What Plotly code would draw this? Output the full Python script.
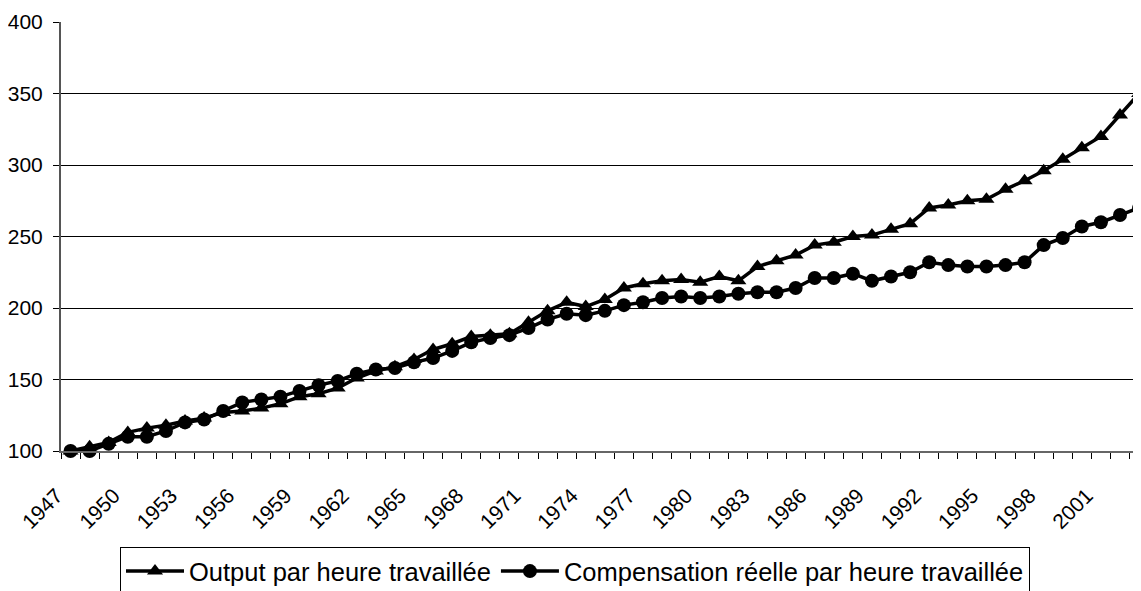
import plotly.graph_objects as go

years = list(range(1947, 2004))

output_per_hour = [
    100, 103, 106, 113, 116, 118, 121, 123, 127, 128,
    130, 133, 138, 140, 144, 151, 156, 159, 164, 171,
    175, 180, 181, 182, 190, 198, 204, 201, 206, 214,
    217, 219, 220, 218, 222, 219, 229, 233, 237, 244,
    246, 250, 251, 255, 259, 270, 272, 275, 276, 283,
    289, 296, 304, 312, 320, 335, 350,
]

comp_per_hour = [
    100, 100, 105, 110, 110, 114, 120, 122, 128, 134,
    136, 138, 142, 146, 149, 154, 157, 158, 162, 165,
    170, 176, 179, 181, 186, 192, 196, 195, 198, 202,
    204, 207, 208, 207, 208, 210, 211, 211, 214, 221,
    221, 224, 219, 222, 225, 232, 230, 229, 229, 230,
    232, 244, 249, 257, 260, 265, 270,
]

label_years = [1947, 1950, 1953, 1956, 1959, 1962, 1965, 1968, 1971, 1974,
               1977, 1980, 1983, 1986, 1989, 1992, 1995, 1998, 2001]
label_text = ["1947", "1950", "1953", "1956", "1959", "1962", "1965", "1968", "1971", "1974",
              "1977", "1980", "1983", "1986", "1989", "1992", "1995", "1998", "2001"]

y_ticks = [100, 150, 200, 250, 300, 350, 400]

FONT = "Liberation Sans, Arial, sans-serif"

fig = go.Figure()
fig.add_trace(go.Scatter(
    x=years, y=output_per_hour, name="Output par heure travaillée",
    mode="lines+markers",
    line=dict(color="black", width=3.5),
    marker=dict(symbol="triangle-up", size=14, color="black"),
    cliponaxis=False,
))
fig.add_trace(go.Scatter(
    x=years, y=comp_per_hour, name="Compensation réelle par heure travaillée",
    mode="lines+markers",
    line=dict(color="black", width=3.5),
    marker=dict(symbol="circle", size=14, color="black"),
    cliponaxis=False,
))

# The page body has an 8px margin; the figure is sized so that the
# visible window (1141x591) matches the reference layout.
fig.update_layout(
    width=1133, height=583,
    margin=dict(l=53, r=0, t=14, b=140, autoexpand=False),
    paper_bgcolor="white", plot_bgcolor="white",
    font=dict(family=FONT, color="black", size=21),
    showlegend=True,
    legend=dict(
        orientation="h", x=(112 - 53) / 1080, xanchor="left",
        y=(443 - 539) / 429, yanchor="top",
        bordercolor="black", borderwidth=1, bgcolor="white",
        font=dict(family=FONT, size=25.5, color="black"),
        itemwidth=58,
    ),
    xaxis=dict(
        range=[1946.5, 2003.1],
        tickmode="array", tickvals=label_years, ticktext=label_text,
        tickangle=-45, ticks="", showgrid=False, zeroline=False,
        showline=True, linecolor="#666666", linewidth=2,
        tickfont=dict(family=FONT, size=21, color="black"),
        ticklabelstandoff=22, ticklabelshift=-14,
        minor=dict(ticks="outside", ticklen=6, tickcolor="black", tickwidth=1,
                   tickmode="linear", tick0=1946.5, dtick=1, showgrid=False),
    ),
    yaxis=dict(
        range=[100, 400], tickmode="array", tickvals=y_ticks,
        ticks="outside", ticklen=6, tickcolor="black",
        showgrid=True, gridcolor="black", gridwidth=1, zeroline=False,
        showline=True, linecolor="#555555", linewidth=2,
        tickfont=dict(family=FONT, size=21, color="black"),
        ticklabelstandoff=6,
    ),
)

fig.write_html("out.html")
